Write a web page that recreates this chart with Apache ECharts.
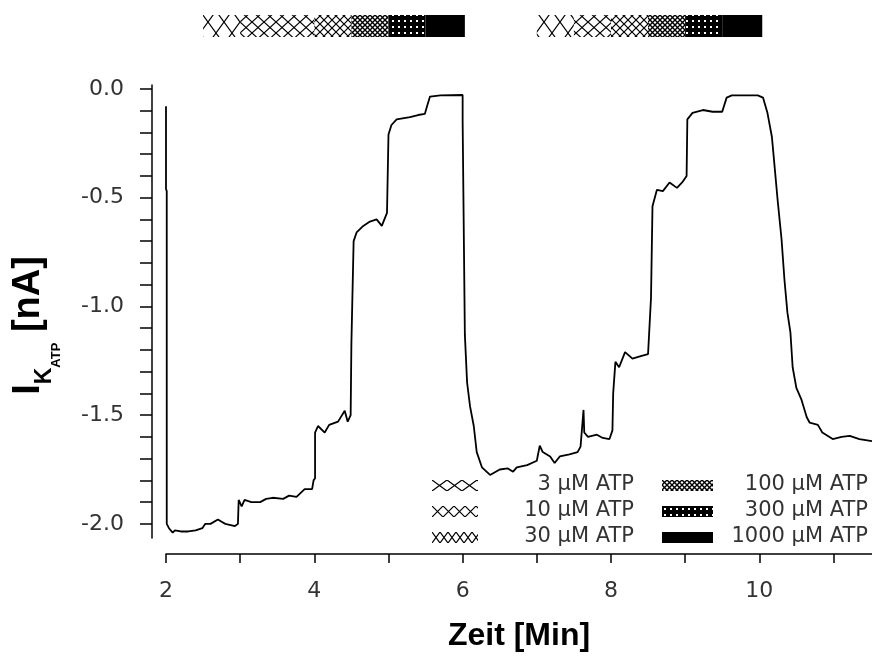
<!DOCTYPE html>
<html>
<head>
<meta charset="utf-8">
<script src="https://cdn.jsdelivr.net/npm/echarts@6/dist/echarts.min.js"></script>
<style>
  html, body { margin: 0; padding: 0; background: #fff; }
  #chart { width: 872px; height: 659px; }
</style>
</head>
<body>
<div id="chart"></div>
<script>
// Messspur: Zeit [Min] und Strom [nA]
const traceTime = [
  2.00, 2.00, 2.01, 2.01, 2.04, 2.09, 2.12, 2.20, 2.30, 2.40, 2.49, 2.53, 2.60, 2.70, 2.75, 2.80, 2.93, 2.97,
  2.98, 3.02, 3.06, 3.15, 3.27, 3.35, 3.44, 3.58, 3.66, 3.76, 3.87, 3.97, 3.99, 4.01,
  4.01, 4.05, 4.14, 4.20, 4.32, 4.41, 4.45, 4.49, 4.50, 4.53, 4.57, 4.66, 4.75, 4.84, 4.91, 4.98, 5.00,
  5.00, 5.04, 5.11, 5.29, 5.40, 5.49, 5.52, 5.56, 5.70, 6.00, 6.00, 6.02, 6.03, 6.06, 6.10, 6.15, 6.19,
  6.26, 6.37, 6.50, 6.61, 6.68, 6.73, 6.87, 7.00, 7.04, 7.08, 7.18, 7.24, 7.31, 7.44, 7.55, 7.59, 7.63,
  7.64, 7.69, 7.81, 7.89, 7.98, 8.02, 8.03, 8.06, 8.11, 8.19, 8.29, 8.39, 8.50, 8.54, 8.56, 8.62, 8.70,
  8.79, 8.89, 8.96, 9.02, 9.03, 9.10, 9.24, 9.37, 9.50, 9.56, 9.63, 9.98, 10.05, 10.11, 10.17, 10.21,
  10.25, 10.30, 10.34, 10.38, 10.42, 10.45, 10.50, 10.57, 10.64, 10.68, 10.79, 10.85, 10.99, 11.11,
  11.22, 11.35, 11.52
]
const traceCurrent = [
  -0.08, -0.46, -0.47, -2.00, -2.02, -2.04, -2.03, -2.035, -2.035, -2.03, -2.02, -2.00, -2.00, -1.98, -1.99, -2.00, -2.01, -2.00,
  -1.89, -1.92, -1.89, -1.90, -1.90, -1.885, -1.88, -1.885, -1.87, -1.876, -1.84, -1.84, -1.80, -1.79,
  -1.58, -1.55, -1.58, -1.545, -1.53, -1.48, -1.53, -1.50, -1.17, -0.70, -0.66, -0.63, -0.61, -0.60, -0.63, -0.57, -0.57,
  -0.21, -0.166, -0.14, -0.13, -0.12, -0.115, -0.08, -0.035, -0.03, -0.028, -0.15, -0.15, -1.13, -1.35, -1.46, -1.55, -1.67,
  -1.74, -1.775, -1.75, -1.745, -1.76, -1.74, -1.73, -1.71, -1.64, -1.67, -1.69, -1.72, -1.69, -1.68, -1.67, -1.645, -1.476,
  -1.58, -1.60, -1.59, -1.605, -1.61, -1.57, -1.40, -1.255, -1.28, -1.21, -1.24, -1.23, -1.22, -0.96, -0.54, -0.464, -0.47,
  -0.43, -0.455, -0.43, -0.40, -0.14, -0.11, -0.097, -0.105, -0.105, -0.04, -0.03, -0.03, -0.04, -0.11, -0.22, -0.37,
  -0.52, -0.69, -0.88, -1.03, -1.12, -1.28, -1.375, -1.43, -1.51, -1.535, -1.545, -1.58, -1.61, -1.60,
  -1.595, -1.61, -1.62
]

// ATP-Applikationen (Balken oben)
const concLabels = ['3 µM ATP', '10 µM ATP', '30 µM ATP', '100 µM ATP', '300 µM ATP', '1000 µM ATP']
const applStart = [2.5, 3.0, 4.0, 4.5, 5.0, 5.5, 7.0, 7.5, 8.0, 8.5, 9.0, 9.5]
const applEnd = [3.0, 4.0, 4.5, 5.0, 5.5, 6.03, 7.5, 8.0, 8.5, 9.0, 9.5, 10.04]
const applConc = [0, 1, 2, 3, 4, 5, 0, 1, 2, 3, 4, 5]

// Achsen
const yTickValues = [0, -0.1, -0.2, -0.3, -0.4, -0.5, -0.6, -0.7, -0.8, -0.9, -1.0, -1.1, -1.2, -1.3, -1.4, -1.5, -1.6, -1.7, -1.8, -1.9, -2.0]
const yLabelValues = [0, -0.5, -1.0, -1.5, -2.0]
const xTickValues = [2, 3, 4, 5, 6, 7, 8, 9, 10, 11]
const xLabelValues = [2, 4, 6, 8, 10]

// Schraffur-Muster fuer die Konzentrationen
function makePattern(idx, w, h) {
  const c = document.createElement('canvas')
  c.width = w
  c.height = h
  const ctx = c.getContext('2d')
  if (idx >= 4) {
    ctx.fillStyle = '#000'
    ctx.fillRect(0, 0, w, h)
    if (idx === 4) {
      ctx.fillStyle = '#fff'
      ctx.fillRect(2, 2, 2, 2)
    }
  } else {
    ctx.strokeStyle = '#000'
    ctx.lineWidth = idx === 3 ? 1.4 : 1.2
    ctx.beginPath()
    ctx.moveTo(0, 0); ctx.lineTo(w, h)
    ctx.moveTo(w, 0); ctx.lineTo(0, h)
    ctx.stroke()
  }
  return { image: c, repeat: 'repeat' }
}
const barTiles = [[16, 22], [12, 11], [8, 8], [5, 5], [6, 6], [4, 4]]
const legendTiles = [[15, 11], [11, 11], [8, 11], [5, 5], [6, 6], [4, 4]]
const patterns = barTiles.map((t, i) => makePattern(i, t[0], t[1]))
const legendPatterns = legendTiles.map((t, i) => makePattern(i, t[0], t[1]))

const chart = echarts.init(document.getElementById('chart'), null, { renderer: 'canvas' })

const applData = applStart.map((s, i) => [s, applEnd[i], applConc[i]])

// Legende unten rechts
const legendGraphic = []
const legendRowsY = [485, 511, 537]
concLabels.forEach((label, i) => {
  const col = i < 3 ? 0 : 1
  const row = i % 3
  const swX = col === 0 ? 432 : 662
  const swW = col === 0 ? 46 : 51
  const txtX = col === 0 ? 634 : 868
  const pat = Object.assign({}, legendPatterns[i], { x: swX, y: legendRowsY[row] - 5 })
  legendGraphic.push({
    type: 'rect',
    shape: { x: swX, y: legendRowsY[row] - 5, width: swW, height: 11 },
    style: { fill: pat },
    z: 10,
  })
  legendGraphic.push({
    type: 'text',
    x: txtX,
    y: legendRowsY[row],
    style: {
      text: label,
      fill: '#333',
      font: '21px "DejaVu Sans"',
      align: 'right',
      verticalAlign: 'middle',
    },
    z: 10,
  })
})

const axisFont = '"DejaVu Sans", sans-serif'
const titleFont = '"Liberation Sans", Arial, sans-serif'

chart.setOption({
  animation: false,
  backgroundColor: '#fff',
  grid: [
    { left: 166, right: 0, top: 85, bottom: 121 },
    { left: 166, right: 0, top: 15, height: 22 },
  ],
  xAxis: [
    {
      type: 'value',
      gridIndex: 0,
      min: 2,
      max: 11.52,
      offset: 16,
      name: 'Zeit [Min]',
      nameLocation: 'middle',
      nameGap: 66,
      nameTextStyle: { color: '#000', fontSize: 32, fontWeight: 'bold', fontFamily: titleFont },
      axisLine: { show: true, onZero: false, lineStyle: { color: '#000', width: 1.5 } },
      axisTick: { show: true, customValues: xTickValues, length: 9, lineStyle: { color: '#000', width: 1.5 } },
      axisLabel: {
        customValues: xLabelValues,
        formatter: (v) => String(v),
        color: '#333',
        fontSize: 22,
        fontFamily: axisFont,
        margin: 26,
      },
      splitLine: { show: false },
    },
    { type: 'value', gridIndex: 1, min: 2, max: 11.52, show: false },
  ],
  yAxis: [
    {
      type: 'value',
      gridIndex: 0,
      min: -2.065,
      max: 0.018,
      offset: 14,
      name: '{m|I}{k|K}{a|ATP}{m| [nA]}',
      nameLocation: 'middle',
      nameRotate: 90,
      nameGap: 100,
      nameTextStyle: {
        padding: [0, 28, 0, 0],
        rich: {
          m: { fontSize: 38, lineHeight: 42, fontWeight: 'bold', color: '#000', fontFamily: titleFont, verticalAlign: 'top' },
          k: { fontSize: 23, lineHeight: 23, fontWeight: 'bold', color: '#000', fontFamily: titleFont, verticalAlign: 'top', padding: [23, 0, 0, 0] },
          a: { fontSize: 13, lineHeight: 13, fontWeight: 'bold', color: '#000', fontFamily: titleFont, verticalAlign: 'top', padding: [40, 0, 0, 0] },
        },
      },
      axisLine: { show: true, onZero: false, lineStyle: { color: '#000', width: 1.5 } },
      axisTick: { show: true, customValues: yTickValues, length: 12, lineStyle: { color: '#000', width: 1.5 } },
      axisLabel: {
        customValues: yLabelValues,
        formatter: (v) => v.toFixed(1),
        color: '#333',
        fontSize: 22,
        fontFamily: axisFont,
        margin: 28,
      },
      splitLine: { show: false },
    },
    { type: 'value', gridIndex: 1, min: 0, max: 1, show: false },
  ],
  graphic: legendGraphic,
  series: [
    {
      type: 'line',
      xAxisIndex: 0,
      yAxisIndex: 0,
      data: traceTime.map((t, i) => [t, traceCurrent[i]]),
      showSymbol: false,
      symbol: 'none',
      lineStyle: { color: '#000', width: 1.8 },
      silent: true,
      clip: true,
    },
    {
      type: 'custom',
      xAxisIndex: 1,
      yAxisIndex: 1,
      data: applData,
      silent: true,
      renderItem: (params, api) => {
        const p0 = api.coord([api.value(0), 1])
        const p1 = api.coord([api.value(1), 0])
        return {
          type: 'rect',
          shape: { x: p0[0], y: p0[1], width: p1[0] - p0[0], height: p1[1] - p0[1] },
          style: { fill: patterns[api.value(2)] },
        }
      },
    },
  ],
})
</script>
</body>
</html>
